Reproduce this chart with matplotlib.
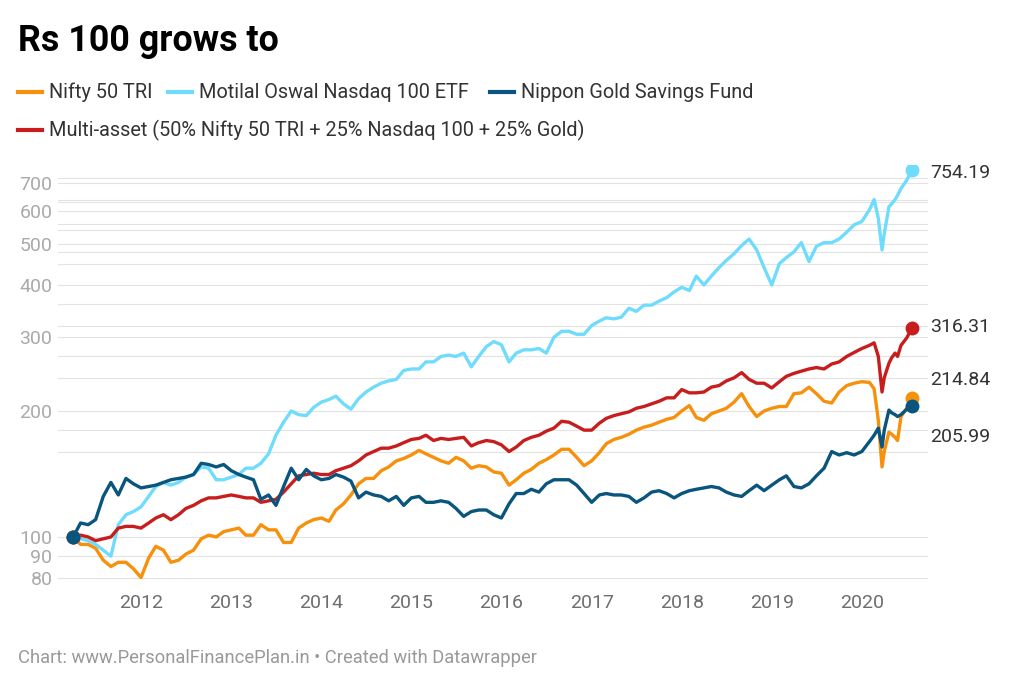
import numpy as np
import pandas as pd
import matplotlib
matplotlib.use('Agg')
import matplotlib.pyplot as plt
import matplotlib.dates as mdates
from matplotlib.lines import Line2D

plt.rcParams['font.family'] = ['Roboto', 'DejaVu Sans']

# ── data (Rs 100 invested Apr 2011) ──────────────────────────────────────────
MONTHS = list(pd.date_range('2011-04-01', '2020-02-01', freq='MS'))
TAIL_DATES = pd.to_datetime(['2020-02-20', '2020-03-08', '2020-03-23', '2020-04-01',
                             '2020-04-20', '2020-05-01', '2020-05-15', '2020-05-25',
                             '2020-06-08', '2020-07-01', '2020-07-24'])
DATES = MONTHS + list(TAIL_DATES)

nifty = [100, 96, 96, 94, 88, 85, 87, 87, 84, 80, 89, 95, 93, 87, 88, 91, 93, 99, 101, 100,
         103, 104, 105, 101, 101, 107, 104, 104, 97, 97, 105, 108, 110, 111, 109, 116, 120, 126,
         134, 138, 138, 144, 147, 152, 154, 157, 161, 158, 155, 152, 150, 155, 152, 146, 148, 147,
         143, 142, 133, 137, 142, 145, 150, 153, 157, 162, 162, 155, 148, 152, 159, 167, 171, 173,
         176, 180, 183, 185, 188, 191, 193, 200, 206, 193, 190, 197, 200, 203, 210, 220, 205, 194,
         200, 203, 205, 205, 220, 221, 228, 220, 211, 209, 222, 230, 233, 235, 234,
         226, 190, 147, 160, 178, 176, 173, 170, 194, 203, 214.84]

nasdaq = [100, 99, 98, 96, 93, 90, 107, 113, 115, 118, 125, 132, 135, 133, 135, 139, 141, 147,
          146, 137, 137, 139, 141, 146, 146, 150, 158, 175, 188, 200, 196, 195, 204, 210, 213, 217,
          208, 202, 214, 222, 228, 233, 236, 238, 250, 252, 252, 262, 262, 270, 272, 270, 275, 255,
          270, 285, 293, 288, 262, 275, 280, 280, 282, 275, 300, 310, 310, 305, 305, 320, 328, 334,
          332, 335, 352, 346, 358, 358, 366, 373, 385, 395, 388, 420, 400, 420, 440, 458, 475, 497,
          515, 485, 440, 400, 450, 465, 480, 505, 455, 495, 505, 505, 515, 535, 557, 567, 605,
          640, 577, 485, 530, 615, 625, 640, 655, 680, 712, 754.19]

gold = [100, 108, 107, 110, 125, 135, 126, 138, 134, 131, 132, 133, 135, 137, 138, 139, 141, 150,
        149, 147, 149, 144, 141, 139, 137, 123, 126, 119, 132, 146, 137, 145, 140, 137, 138, 141,
        139, 136, 124, 128, 126, 125, 122, 125, 119, 124, 125, 121, 121, 122, 121, 117, 112, 115,
        116, 116, 113, 111, 120, 127, 127, 130, 128, 134, 137, 137, 137, 133, 127, 121, 126, 127,
        126, 126, 125, 121, 124, 128, 129, 127, 124, 127, 129, 130, 131, 132, 131, 128, 126, 125,
        129, 133, 129, 133, 137, 140, 132, 131, 134, 140, 146, 160, 157, 159, 157, 160, 169,
        175, 182, 164, 180, 201, 198, 196, 194, 196, 202, 205.99]

multi = [100, 101, 100, 98, 99, 100, 105, 106, 106, 105, 108, 111, 113, 110, 113, 117, 119, 122,
         124, 124, 125, 126, 125, 124, 124, 121, 122, 123, 128, 134, 140, 141, 142, 141, 141, 144,
         146, 148, 152, 157, 160, 163, 163, 165, 168, 171, 172, 175, 170, 172, 171, 172, 173, 165,
         168, 170, 169, 166, 160, 164, 170, 173, 175, 179, 182, 189, 188, 184, 180, 180, 187, 192,
         195, 197, 199, 203, 205, 208, 211, 215, 215, 225, 221, 221, 222, 228, 230, 236, 240, 247,
         238, 233, 233, 227, 235, 242, 246, 249, 252, 254, 252, 259, 262, 270, 276, 282, 287,
         291, 270, 222, 240, 260, 268, 275, 270, 287, 299, 316.31]

SERIES = ['Nifty 50 TRI', 'Motilal Oswal Nasdaq 100 ETF', 'Nippon Gold Savings Fund',
          'Multi-asset (50% Nifty 50 TRI + 25% Nasdaq 100 + 25% Gold)']
YTICKS = [80, 90, 100, 200, 300, 400, 500, 600, 700]
YGRID_EXTRA = [160, 180, 240, 270, 320, 360, 450, 480, 540, 560, 630, 640, 720]
YEARS = list(range(2012, 2021))

# ── styling ──────────────────────────────────────────────────────────────────
C_NIFTY, C_NASDAQ, C_GOLD, C_MULTI = '#f7900a', '#70dcfd', '#09557d', '#c71e1d'
GRID = '#e3e3e3'
W, H = 1024, 694

def fx(x): return x / W
def fy(y): return 1 - y / H

fig = plt.figure(figsize=(W / 100, H / 100), dpi=100)
ax = fig.add_axes([fx(58), fy(590), 870 / W, 425 / H])

# x scale: 1 Jan 2012 sits at px 141, 90.1 px per year
px_day = 90.1 / 365.25
d2012 = mdates.date2num(pd.Timestamp('2012-01-01'))
ax.set_xlim(d2012 - (141 - 58) / px_day, d2012 + (928 - 141) / px_day)
ax.set_yscale('log')
ax.set_ylim(74.7, 774)

for v in YTICKS + YGRID_EXTRA:
    ax.axhline(v, color=GRID, lw=0.8, zorder=0)

x = mdates.date2num(DATES)
plot_order = [(nifty, C_NIFTY), (nasdaq, C_NASDAQ), (multi, C_MULTI), (gold, C_GOLD)]
for vals, c in plot_order:
    ax.plot(x, vals, color=c, lw=2.4, solid_joinstyle='round', zorder=3)
    ax.plot(x[-1], vals[-1], 'o', color=c, ms=9, zorder=4)
for vals, c in plot_order:
    ax.plot(x[0], vals[0], 'o', color=c, ms=9, zorder=4)

# end-value labels (offset in pixels to avoid overlap, as in the original)
for vals, dy in [(nasdaq, -3), (multi, 1), (nifty, 18), (gold, -31)]:
    ax.annotate(f'{vals[-1]:.2f}', (x[-1], vals[-1]), xytext=(18, dy),
                textcoords='offset pixels', ha='left', va='center',
                fontsize=14, color='#333333', annotation_clip=False)

ax.set_yticks(YTICKS)
ax.set_yticklabels([str(v) for v in YTICKS])
ax.yaxis.set_minor_locator(matplotlib.ticker.NullLocator())
ax.set_xticks([mdates.date2num(pd.Timestamp(f'{y}-01-01')) for y in YEARS])
ax.set_xticklabels([str(y) for y in YEARS])
ax.tick_params(axis='y', length=0, pad=4, labelsize=14, labelcolor='#aaaaaa')
ax.tick_params(axis='x', length=0, pad=3, labelsize=14, labelcolor='#6e6e6e')
for sp in ax.spines.values():
    sp.set_visible(False)
ax.patch.set_alpha(0)

# ── title, legend, footer ────────────────────────────────────────────────────
fig.text(fx(18), fy(51), 'Rs 100 grows to', fontsize=25.8, fontweight='bold',
         color='#000000', va='baseline', ha='left')

legend_items = [(18, 92, C_NIFTY, SERIES[0]), (168, 92, C_NASDAQ, SERIES[1]),
                (490, 92, C_GOLD, SERIES[2]), (18, 130, C_MULTI, SERIES[3])]
for lx, ly, c, label in legend_items:
    fig.add_artist(Line2D([fx(lx), fx(lx + 24)], [fy(ly), fy(ly)],
                          transform=fig.transFigure, color=c, lw=3))
    fig.text(fx(lx + 31), fy(ly), label, fontsize=14.3, color='#333333',
             va='center', ha='left')

fig.text(fx(18), fy(658), 'Chart: www.PersonalFinancePlan.in \u2022 Created with Datawrapper',
         fontsize=13.2, color='#999999', va='center', ha='left')

fig.savefig('out.png', dpi=100)
